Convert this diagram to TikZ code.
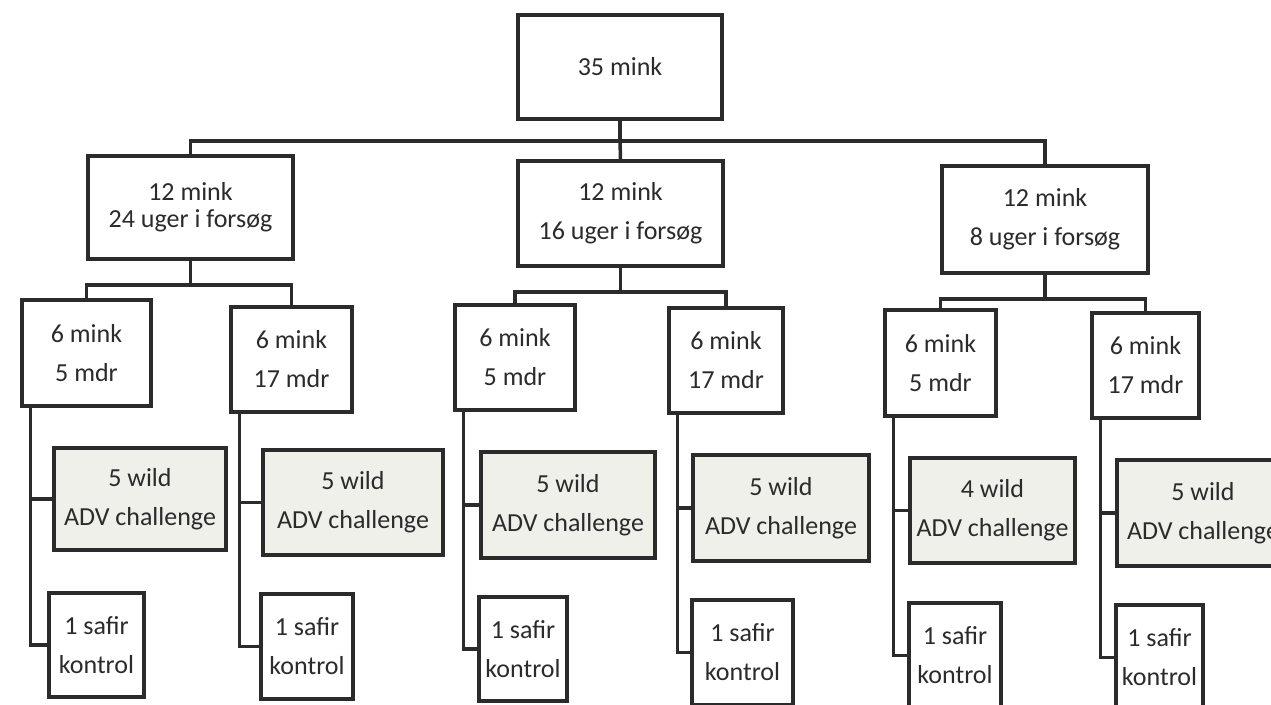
\documentclass[tikz,border=0pt]{standalone}
\usepackage{fontspec}
\setmainfont{Carlito}
\usetikzlibrary{calc}
\definecolor{ink}{HTML}{2B2B2B}
\definecolor{wildfill}{HTML}{EEF0E9}
\tikzset{
  box/.style={draw=ink, line width=3.5pt, fill=white, inner sep=0pt, align=center,
    font=\fontsize{26}{39}\selectfont, text=ink},
  wildbox/.style={box, fill=wildfill},
  conn/.style={draw=ink, line width=3.5pt},
}
\begin{document}
\begin{tikzpicture}[x=1pt,y=-1pt]
\clip (0,0) rectangle (1271,704);
\fill[white] (0,0) rectangle (1271,704);
% top
\node[box, minimum width=204pt, minimum height=104pt] (top) at (620,67) {35 mink};
% level 2
\node[box, minimum width=205pt, minimum height=103pt] (L) at (190.5,207.5) {12 mink\\[-12pt]24 uger i forsøg};
\node[box, minimum width=205pt, minimum height=105pt] (M) at (620.5,213.5) {12 mink\\16 uger i forsøg};
\node[box, minimum width=206pt, minimum height=107pt] (R) at (1045,219.5) {12 mink\\8 uger i forsøg};
% level 3
\node[box, minimum width=129pt, minimum height=106pt] (L1) at (86.5,353) {6 mink\\5 mdr};
\node[box, minimum width=121pt, minimum height=105pt] (L2) at (291.5,359.5) {6 mink\\17 mdr};
\node[box, minimum width=120pt, minimum height=105pt] (M1) at (515,357.5) {6 mink\\5 mdr};
\node[box, minimum width=114pt, minimum height=105pt] (M2) at (726,360.5) {6 mink\\17 mdr};
\node[box, minimum width=111pt, minimum height=106pt] (R1) at (940.5,363) {6 mink\\5 mdr};
\node[box, minimum width=107pt, minimum height=105pt] (R2) at (1145.5,365.5) {6 mink\\17 mdr};
% wild
\node[wildbox, minimum width=172pt, minimum height=102pt] (W1) at (140,499) {5 wild\\ADV challenge};
\node[wildbox, minimum width=180pt, minimum height=105pt] (W2) at (353,502.5) {5 wild\\ADV challenge};
\node[wildbox, minimum width=174pt, minimum height=106pt] (W3) at (568,505) {5 wild\\ADV challenge};
\node[wildbox, minimum width=176pt, minimum height=106pt] (W4) at (781,508) {5 wild\\ADV challenge};
\node[wildbox, minimum width=165pt, minimum height=105pt] (W5) at (992.5,510.5) {4 wild\\ADV challenge};
\node[wildbox, minimum width=172pt, minimum height=106pt] (W6) at (1203,513) {5 wild\\ADV challenge};
% safir
\node[box, minimum width=95pt, minimum height=104pt] (S1) at (96.5,645) {1 safir\\kontrol};
\node[box, minimum width=92pt, minimum height=105pt] (S2) at (307,646.5) {1 safir\\kontrol};
\node[box, minimum width=88pt, minimum height=104pt] (S3) at (523,649) {1 safir\\kontrol};
\node[box, minimum width=101pt, minimum height=105pt] (S4) at (742.5,652.5) {1 safir\\kontrol};
\node[box, minimum width=92pt, minimum height=105pt] (S5) at (955,655.5) {1 safir\\kontrol};
\node[box, minimum width=87pt, minimum height=105pt] (S6) at (1159.5,657.5) {1 safir\\kontrol};
% connectors level 1 -> 2
\coordinate (tb) at ($(top.south)+(0,20)$);
\draw[conn] (top.south) -- (tb);
\draw[conn] (L.north) |- (tb) -| (R.north);
\draw[conn] (tb) -- (M.north);
% level 2 -> 3
\foreach \p/\a/\b in {L/L1/L2, M/M1/M2, R/R1/R2}{
  \coordinate (\p bus) at ($(\p.south)+(0,24)$);
  \draw[conn] (\p.south) -- (\p bus);
  \draw[conn] (\a.north) |- (\p bus) -| (\b.north);
}
% level 3 -> 4
\foreach \p/\w/\s in {L1/W1/S1, L2/W2/S2, M1/W3/S3, M2/W4/S4, R1/W5/S5, R2/W6/S6}{
  \coordinate (\p v) at ($(\p.south west)+(10,0)$);
  \draw[conn] (\p v) |- (\s.west);
  \draw[conn] (\w.west) -| (\p v);
}
\end{tikzpicture}
\end{document}
